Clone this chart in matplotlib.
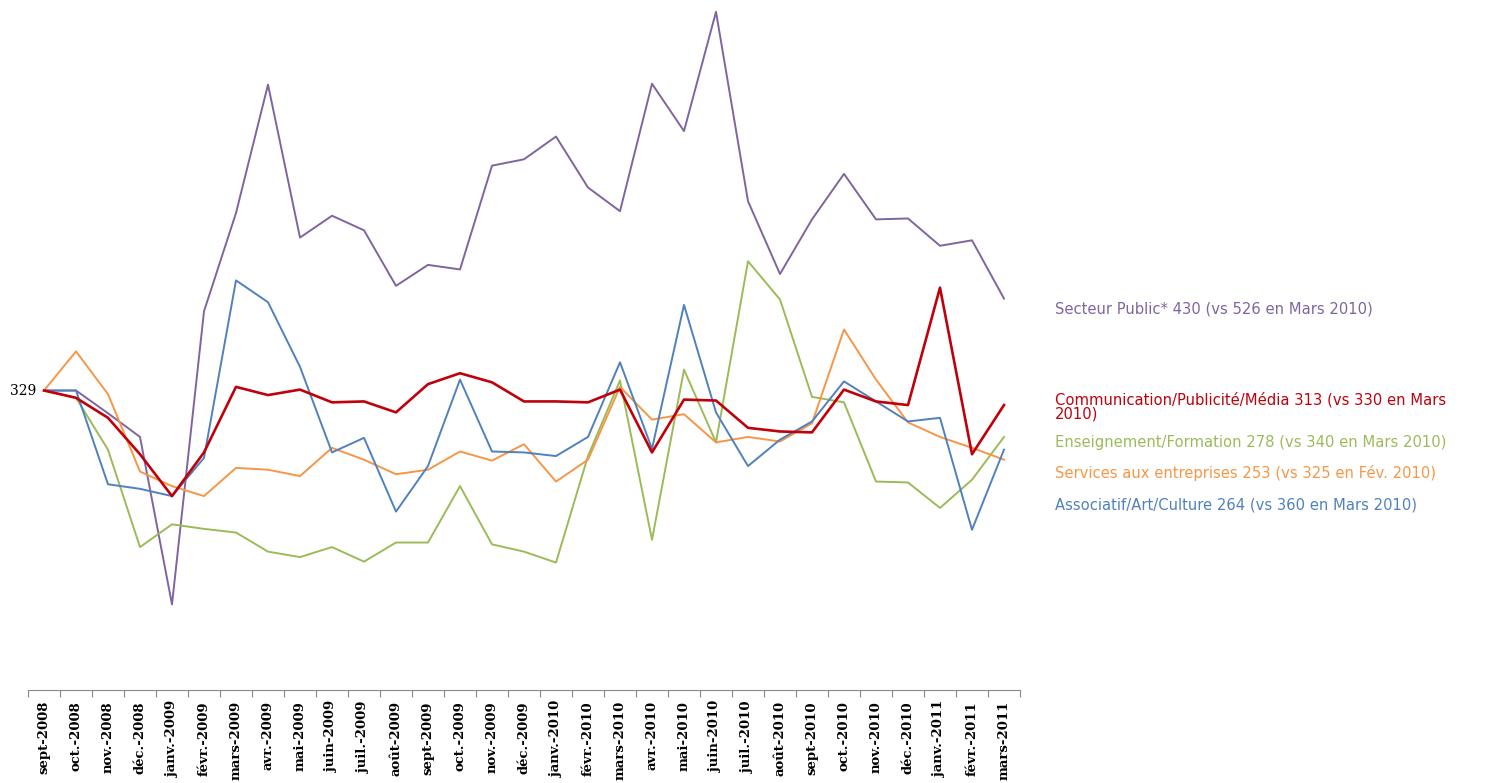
import numpy as np
import matplotlib.pyplot as plt

months = ["sept-2008", "oct.-2008", "nov.-2008", "déc.-2008", "janv.-2009", "févr.-2009",
          "mars-2009", "avr.-2009", "mai-2009", "juin-2009", "juil.-2009", "août-2009",
          "sept-2009", "oct.-2009", "nov.-2009", "déc.-2009", "janv.-2010", "févr.-2010",
          "mars-2010", "avr.-2010", "mai-2010", "juin-2010", "juil.-2010", "août-2010",
          "sept-2010", "oct.-2010", "nov.-2010", "déc.-2010", "janv.-2011", "févr.-2011",
          "mars-2011"]

public = [329, 329, 304, 278, 94, 416, 524, 665, 497, 521, 505, 444, 467, 462, 576, 583,
          608, 552, 526, 666, 614, 745, 537, 457, 517, 567, 517, 518, 488, 494, 430]
communication = [329, 321, 299, 259, 213, 261, 333, 324, 330, 316, 317, 305, 336, 348, 338, 317,
                 317, 316, 330, 261, 319, 318, 288, 284, 283, 330, 317, 313, 442, 259, 313]
enseignement = [329, 321, 264, 157, 182, 177, 173, 152, 146, 157, 141, 162, 162, 224, 160, 152,
                140, 257, 340, 165, 352, 272, 471, 429, 322, 316, 229, 228, 200, 231, 278]
services = [329, 372, 325, 240, 224, 213, 244, 242, 235, 266, 253, 237, 242, 262, 252, 270,
            229, 253, 333, 297, 303, 272, 278, 273, 293, 396, 341, 294, 278, 266, 253]
associatif = [329, 329, 226, 221, 213, 255, 450, 426, 355, 261, 277, 196, 246, 341, 262, 261,
              257, 278, 360, 265, 423, 305, 246, 275, 295, 339, 317, 295, 299, 176, 264]

series = [
    (public, "#8064A2", 1.4, "Secteur Public* 430 (vs 526 en Mars 2010)", 309),
    (communication, "#C0000B", 1.9, "Communication/Publicité/Média 313 (vs 330 en Mars\n2010)", 407),
    (enseignement, "#9BBB59", 1.4, "Enseignement/Formation 278 (vs 340 en Mars 2010)", 443),
    (services, "#F79646", 1.4, "Services aux entreprises 253 (vs 325 en Fév. 2010)", 473),
    (associatif, "#4F81BD", 1.4, "Associatif/Art/Culture 264 (vs 360 en Mars 2010)", 505),
]

fig = plt.figure(figsize=(14.86, 7.83), dpi=100)
ax = fig.add_axes([28 / 1486, 93 / 783, 992 / 1486, 690 / 783])
x = np.arange(len(months))
# dessiner la ligne rouge en dernier
for vals, col, lw, label, ty in [series[0], series[2], series[3], series[4], series[1]]:
    ax.plot(x, vals, color=col, lw=lw, clip_on=False)
for vals, col, lw, label, ty in series:
    fig.text(1055 / 1486, 1 - ty / 783, label, color=col, fontsize=10.6, va="center",
             family="DejaVu Sans", linespacing=0.95)

ax.set_xlim(-0.5, len(months) - 0.5)
ax.set_ylim(0, 758)
ax.set_yticks([])
for s in ["top", "right", "left"]:
    ax.spines[s].set_visible(False)
ax.spines["bottom"].set_color("#888888")
ax.set_xticks(np.arange(-0.5, len(months), 1), minor=False)
ax.set_xticklabels([])
ax.tick_params(axis="x", length=5, color="#888888")
ax.set_xticks(x, minor=True)
ax.set_xticklabels(months, minor=True, rotation=90, fontsize=9.5, fontweight="bold",
                   family="DejaVu Serif")
ax.tick_params(axis="x", which="minor", length=0, pad=8)
ax.text(-0.25, 329, "329", ha="right", va="center", fontsize=10, family="DejaVu Serif")

fig.savefig("out.png", dpi=100)
